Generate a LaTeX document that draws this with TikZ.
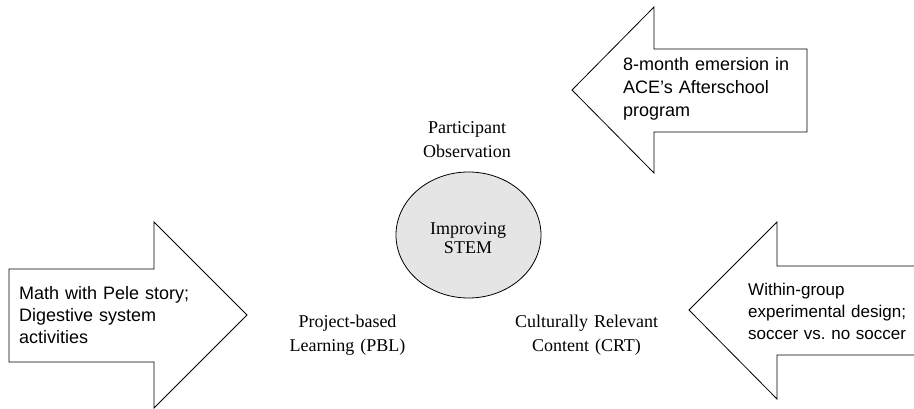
\documentclass[tikz,border=0pt]{standalone}
\usepackage{fontspec}
\setmainfont{Liberation Serif}
\newfontfamily\arrowfont{Liberation Sans}
\usetikzlibrary{shapes.geometric}
\frenchspacing
\begin{document}
\begin{tikzpicture}[x=1pt,y=-1pt,
  outline/.style={draw=black, line width=0.8pt, fill=white, line join=miter},
  arrowtext/.style={font=\arrowfont\fontsize{18}{22}\selectfont, anchor=base west,
    inner sep=0pt, text width=200pt, align=left},
  caption/.style={font=\fontsize{18}{24}\selectfont, anchor=base,
    inner sep=0pt, text width=200pt, align=center},
  hub/.style={ellipse, draw=black, line width=0.8pt, fill=black!10,
    minimum width=145pt, minimum height=126pt, inner sep=0pt}]
\useasboundingbox (0,0) rectangle (914,409);
\clip (0,0) rectangle (914,409);

% block arrows
\draw[outline] (572,90) -- (654,7) -- (654,49) -- (807,49) -- (807,132)
  -- (654,132) -- (654,173) -- cycle;
\draw[outline] (9,269) -- (154,269) -- (154,222) -- (247,315) -- (154,408)
  -- (154,362) -- (9,362) -- cycle;
\draw[outline] (689,310) -- (777,222) -- (777,266) -- (930,266) -- (930,355)
  -- (777,355) -- (777,399) -- cycle;

% arrow texts
\node[arrowtext, font=\arrowfont\fontsize{18}{23}\selectfont] (afterschool) at (623,71)
  {8-month emersion in\\ACE’s Afterschool\\program};
\node[arrowtext] (pele) at (19,299.5)
  {Math with Pele story;\\Digestive system\\activities};
\node[arrowtext, font=\arrowfont\fontsize{17}{22}\selectfont] (design) at (748,295)
  {Within-group\\experimental design;\\soccer vs. no soccer};

% central goal
\node[hub] (hub) at (468.5,235) {};
\node[caption, font=\fontsize{18}{19.5}\selectfont] (hubtext) at (468,234)
  {Improving\\STEM};

% approaches
\node[caption] (observation) at (467,134) {Participant\\Observation};
\node[caption, font=\fontsize{18}{23.5}\selectfont] (pbl) at (347.5,327.5)
  {Project-based\\Learning (PBL)};
\node[caption, font=\fontsize{18}{23.5}\selectfont] (crt) at (586.5,327.5)
  {Culturally Relevant\\Content (CRT)};
\end{tikzpicture}
\end{document}
